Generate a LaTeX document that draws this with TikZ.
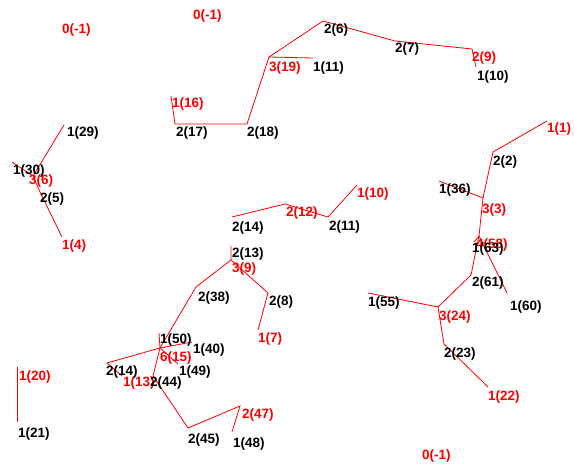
\documentclass[tikz,border=0pt]{standalone}
\usepackage{fontspec}
\setmainfont{Liberation Sans}
\begin{document}
\begin{tikzpicture}[x=1pt,y=-1pt,
  edge/.style={draw=red, line width=0.8pt},
  lab/.style={anchor=base west, inner sep=0pt, font=\fontsize{13.5}{14}\selectfont\bfseries},
  rl/.style={lab, text=red},
  bl/.style={lab, text=black}]
\useasboundingbox[fill=white] (0,0) rectangle (574,468);
% points
\coordinate (p16) at (171,96);
\coordinate (p17) at (175,124);
\coordinate (p18) at (247,124);
\coordinate (p19) at (269,57);
\coordinate (p6) at (323,21);
\coordinate (p11) at (313,58);
\coordinate (p7) at (395,41);
\coordinate (p9) at (472,49);
\coordinate (p10a) at (476,67);
\coordinate (p29) at (64,125);
\coordinate (p30) at (12,162);
\coordinate (p6b) at (33,176);
\coordinate (p5) at (40,192);
\coordinate (p4) at (62,237);
\coordinate (p1) at (547,121);
\coordinate (p2) at (493,152);
\coordinate (p3) at (483,198);
\coordinate (p36) at (439,181);
\coordinate (p58) at (479,236);
\coordinate (p63) at (474,242);
\coordinate (p61) at (471,275);
\coordinate (p60) at (507,293);
\coordinate (p24) at (438,307);
\coordinate (p55) at (368,293);
\coordinate (p23) at (444,344);
\coordinate (p22) at (488,387);
\coordinate (p14a) at (232,217);
\coordinate (p12) at (285,204);
\coordinate (p11b) at (328,217);
\coordinate (p10b) at (357,185);
\coordinate (p13) at (231,246);
\coordinate (p9b) at (231,260);
\coordinate (p38) at (196,287);
\coordinate (p8) at (268,293);
\coordinate (p7b) at (258,330);
\coordinate (p15) at (160,348);
\coordinate (p50) at (159,333);
\coordinate (p40) at (192,342);
\coordinate (p14b) at (107,363);
\coordinate (p13b) at (122,376);
\coordinate (p44) at (153,376);
\coordinate (p49) at (178,364);
\coordinate (p45) at (188,428);
\coordinate (p47) at (240,406);
\coordinate (p48) at (232,432);
\coordinate (p20) at (17,367);
\coordinate (p21) at (17,422);
% edges
\draw[edge] (p16) -- (p17) -- (p18) -- (p19) -- (p6) -- (p7) -- (p9) -- (p10a);
\draw[edge] (p19) -- (p11);
\draw[edge] (p29) -- (p6b);
\draw[edge] (p30) -- (p6b) -- (p5) -- (p4);
\draw[edge] (p1) -- (p2) -- (p3) -- (p58) -- (p61) -- (p24) -- (p23) -- (p22);
\draw[edge] (p36) -- (p3);
\draw[edge] (p58) -- (p63);
\draw[edge] (p58) -- (p60);
\draw[edge] (p55) -- (p24);
\draw[edge] (p14a) -- (p12) -- (p11b) -- (p10b);
\draw[edge] (p13) -- (p9b) -- (p38) -- (p15);
\draw[edge] (p9b) -- (p8) -- (p7b);
\draw[edge] (p15) -- (p50);
\draw[edge] (p15) -- (p40);
\draw[edge] (p15) -- (p14b) -- (p13b);
\draw[edge] (p15) -- (p44) -- (p45) -- (p47) -- (p48);
\draw[edge] (p15) -- (p49);
\draw[edge] (p20) -- (p21);
% red labels
\node[rl] (l01) at (62,34) {0(-1)};
\node[rl] (l02) at (193,20) {0(-1)};
\node[rl] (l03) at (422,460) {0(-1)};
\node[rl] (l06) at (472,62) {2(9)};
\node[rl] (l08) at (269,72) {3(19)};
\node[rl] (l10) at (172,108) {1(16)};
\node[rl] (l15) at (29,185) {3(6)};
\node[rl] (l17) at (62,250) {1(4)};
\node[rl] (l18) at (547,133) {1(1)};
\node[rl] (l21) at (482,214) {3(3)};
\node[rl] (l22) at (476,249) {4(58)};
\node[rl] (l27) at (439,320) {3(24)};
\node[rl] (l29) at (488,400) {1(22)};
\node[rl] (l31) at (286,217) {2(12)};
\node[rl] (l33) at (357,198) {1(10)};
\node[rl] (l35) at (232,273) {3(9)};
\node[rl] (l38) at (258,343) {1(7)};
\node[rl] (l41) at (160,362) {6(15)};
\node[rl] (l44) at (123,387) {1(13)};
\node[rl] (l47) at (242,418) {2(47)};
\node[rl] (l49) at (19,381) {1(20)};
% black labels
\node[bl] (l04) at (324,34) {2(6)};
\node[bl] (l05) at (395,53) {2(7)};
\node[bl] (l07) at (477,81) {1(10)};
\node[bl] (l09) at (313,72) {1(11)};
\node[bl] (l11) at (176,137) {2(17)};
\node[bl] (l12) at (247,137) {2(18)};
\node[bl] (l13) at (67,137) {1(29)};
\node[bl] (l14) at (13,175) {1(30)};
\node[bl] (l16) at (40,203) {2(5)};
\node[bl] (l19) at (493,166) {2(2)};
\node[bl] (l20) at (439,194) {1(36)};
\node[bl] (l23) at (472,253) {1(63)};
\node[bl] (l24) at (472,287) {2(61)};
\node[bl] (l25) at (510,311) {1(60)};
\node[bl] (l26) at (368,307) {1(55)};
\node[bl] (l28) at (444,358) {2(23)};
\node[bl] (l30) at (232,232) {2(14)};
\node[bl] (l32) at (329,231) {2(11)};
\node[bl] (l34) at (232,258) {2(13)};
\node[bl] (l36) at (198,302) {2(38)};
\node[bl] (l37) at (269,306) {2(8)};
\node[bl] (l39) at (160,344) {1(50)};
\node[bl] (l40) at (193,353) {1(40)};
\node[bl] (l42) at (106,376) {2(14)};
\node[bl] (l43) at (179,376) {1(49)};
\node[bl] (l45) at (150,387) {2(44)};
\node[bl] (l46) at (188,443) {2(45)};
\node[bl] (l48) at (233,447) {1(48)};
\node[bl] (l50) at (18,437) {1(21)};
\end{tikzpicture}
\end{document}
